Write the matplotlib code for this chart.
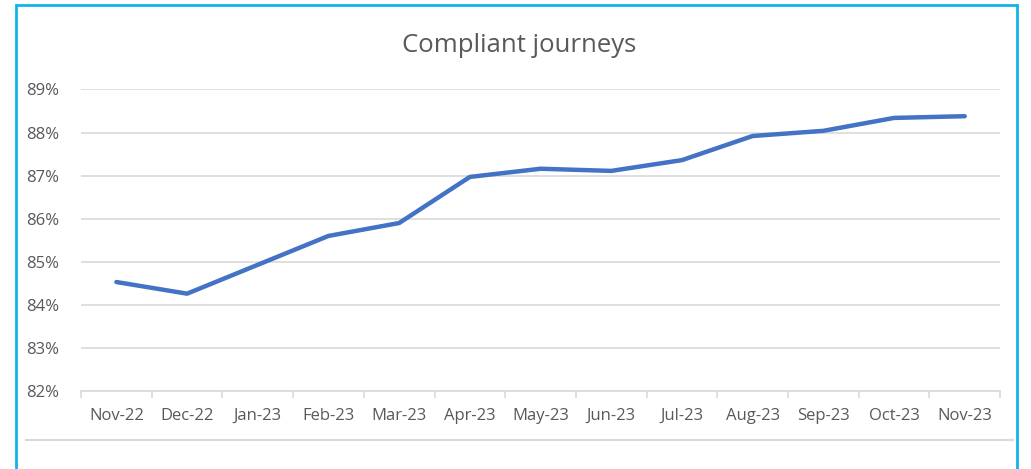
import matplotlib.pyplot as plt
from matplotlib.patches import Rectangle
from matplotlib.lines import Line2D
from matplotlib.ticker import FuncFormatter, FixedLocator

# Data
months = ["Nov-22", "Dec-22", "Jan-23", "Feb-23", "Mar-23", "Apr-23", "May-23",
          "Jun-23", "Jul-23", "Aug-23", "Sep-23", "Oct-23", "Nov-23"]
compliant_pct = [84.53, 84.26, 84.93, 85.60, 85.90, 86.97, 87.16,
                 87.11, 87.36, 87.92, 88.04, 88.34, 88.38]
y_ticks = [82, 83, 84, 85, 86, 87, 88, 89]

plt.rcParams["font.family"] = ["Open Sans", "DejaVu Sans"]
text_grey = "#595959"
grid_grey = "#d9d9d9"

fig = plt.figure(figsize=(10.31, 4.69), dpi=100)
ax = fig.add_axes([0.0786, 0.1663, 0.8914, 0.6429])

x = list(range(len(months)))
ax.plot(x, compliant_pct, color="#4472C4", linewidth=3.2,
        solid_capstyle="round", solid_joinstyle="round", zorder=3)

ax.set_xlim(-0.5, len(months) - 0.5)
ax.set_ylim(82, 89)
ax.set_yticks(y_ticks)
ax.yaxis.set_major_formatter(FuncFormatter(lambda v, _: f"{int(v)}%"))
ax.grid(axis="y", color=grid_grey, linewidth=1.2)
ax.set_axisbelow(True)

ax.set_xticks(x)
ax.set_xticklabels(months)
ax.xaxis.set_minor_locator(FixedLocator([i - 0.5 for i in range(len(months) + 1)]))
ax.tick_params(axis="x", which="major", length=0, pad=12, labelsize=12, labelcolor=text_grey)
ax.tick_params(axis="x", which="minor", length=5, color=grid_grey, width=1.2, direction="out")
ax.tick_params(axis="y", length=0, pad=16, labelsize=12, labelcolor=text_grey)

for side in ["left", "right", "top"]:
    ax.spines[side].set_visible(False)
ax.spines["bottom"].set_color(grid_grey)
ax.spines["bottom"].set_linewidth(1.2)

fig.text(519 / 1031, 1 - 46 / 469, "Compliant journeys", ha="center", va="center",
         fontsize=18.5, color=text_grey)

# separator line under the chart and the blue frame
fig.add_artist(Line2D([26 / 1031, 1013 / 1031], [1 - 440 / 469, 1 - 440 / 469],
                      color=grid_grey, linewidth=1.5))
fig.add_artist(Rectangle((15.5 / 1031, -0.05), (1017 - 15.5) / 1031, 1.05 - 5.5 / 469,
                         fill=False, edgecolor="#0fb4e8", linewidth=2))

fig.savefig("out.png", dpi=100, facecolor="white")
